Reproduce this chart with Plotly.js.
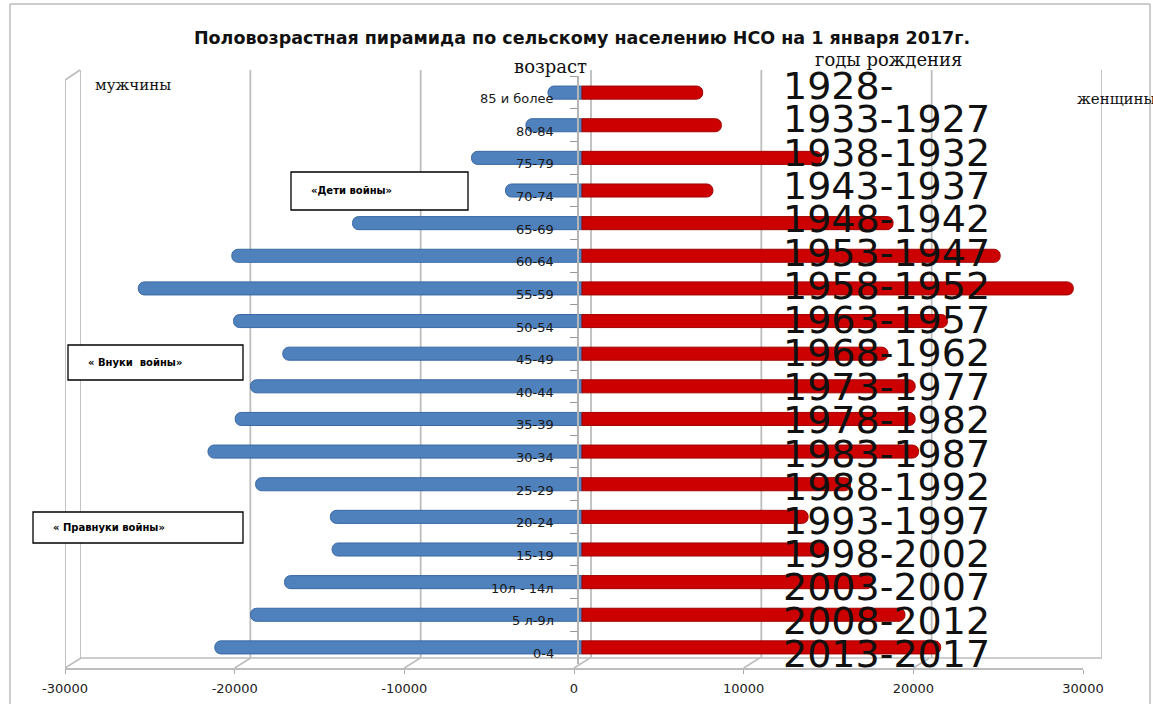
<!DOCTYPE html>
<html>
<head>
<meta charset="utf-8">
<script src="https://cdn.plot.ly/plotly-3.0.1.min.js"></script>
<style>html,body{margin:0;padding:0;background:#fff;}#chart{width:1153px;height:704px;}</style>
</head>
<body>
<div id="chart"></div>
<script>
// ---- data ----
const ages = ['85 и более','80-84','75-79','70-74','65-69','60-64','55-59','50-54','45-49','40-44','35-39','30-34','25-29','20-24','15-19','10л - 14л','5 л-9л','0-4'];
const men = [2000,3300,6500,4500,13500,20600,26100,20500,17600,19500,20400,22000,19200,14800,14700,17500,19500,21600];
const women = [7100,8200,14100,7700,18300,24600,28900,21500,18000,19600,19600,19800,15800,13300,14500,17100,19000,21100];
const birthYears = ['1928-','1933-1927','1938-1932','1943-1937','1948-1942','1953-1947','1958-1952','1963-1957','1968-1962','1973-1977','1978-1982','1983-1987','1988-1992','1993-1997','1998-2002','2003-2007','2008-2012','2013-2017'];
const xTicks = [-30000,-20000,-10000,0,10000,20000,30000];
const titleText = 'Половозрастная пирамида по сельскому населению НСО на 1 января 2017г.';

// ---- helpers (pixel -> paper) ----
const W = 1153, H = 704;
const px = p => p / W;
const py = p => 1 - p / H;

const traces = [
  {type:'bar', orientation:'h', y:ages, x:men.map(v => -v), name:'мужчины',
   width:0.4, marker:{color:'#4F81BD', line:{color:'#3A68A3', width:1}, cornerradius:6},
   xaxis:'x', yaxis:'y', hoverinfo:'skip', showlegend:false},
  {type:'bar', orientation:'h', y:ages, x:women, name:'женщины',
   width:0.4, marker:{color:'#CC0000', line:{color:'#A00000', width:1}, cornerradius:6},
   xaxis:'x', yaxis:'y', hoverinfo:'skip', showlegend:false},
  {type:'scatter', x:[], y:[], xaxis:'x2', yaxis:'y', showlegend:false, hoverinfo:'skip'},
  {type:'scatter', x:[], y:[], xaxis:'x3', yaxis:'y', showlegend:false, hoverinfo:'skip'}
];

const gridColor = '#bdbdbd';
const shapes = [];
// back wall gridlines
xTicks.forEach(v => {
  shapes.push({type:'line', xref:'x3', yref:'paper', x0:v, x1:v, y0:py(658), y1:py(70),
               line:{color:gridColor, width:1.8}, layer:'below'});
  // floor slant
  shapes.push({type:'line', xref:'x2', yref:'paper', xsizemode:'pixel', xanchor:v, x0:0, x1:16,
               y0:py(668), y1:py(658), line:{color:gridColor, width:1.5}, layer:'below'});
});
// back floor line
shapes.push({type:'line', xref:'x3', yref:'paper', x0:-30000, x1:30000, y0:py(658), y1:py(658),
             line:{color:gridColor, width:1.5}, layer:'below'});
// front-left wall edge
shapes.push({type:'line', xref:'x2', yref:'paper', x0:-30000, x1:-30000, y0:py(668), y1:py(80),
             line:{color:gridColor, width:1.8}, layer:'below'});
shapes.push({type:'line', xref:'x2', yref:'paper', xsizemode:'pixel', xanchor:-30000, x0:0, x1:15,
             y0:py(80), y1:py(70), line:{color:gridColor, width:1.8}, layer:'below'});
// outer chart border
shapes.push({type:'rect', xref:'paper', yref:'paper', x0:px(10), x1:px(1150), y0:py(712), y1:py(4),
             line:{color:'#9a9a9a', width:1}, layer:'below'});

const annotations = [];
// age labels
ages.forEach(a => {
  annotations.push({xref:'paper', yref:'y', x:px(556), y:a, xanchor:'right', yanchor:'middle',
                    yshift:-6, text:a, showarrow:false,
                    font:{family:'DejaVu Sans', size:13, color:'#1a1a1a'}});
});
// birth years
birthYears.forEach((t, i) => {
  annotations.push({xref:'paper', yref:'y', x:px(781), y:ages[i], xanchor:'left', yanchor:'middle',
                    yshift:7 - i * 14 / 17, text:t, showarrow:false,
                    font:{family:'DejaVu Sans', size:38, color:'#111'}});
});
// header labels
annotations.push({xref:'paper', yref:'paper', x:px(550), y:py(66), text:'возраст', showarrow:false,
                  xanchor:'center', yanchor:'middle', font:{family:'DejaVu Serif', size:18, color:'#111'}});
annotations.push({xref:'paper', yref:'paper', x:px(888), y:py(60), text:'годы рождения', showarrow:false,
                  xanchor:'center', yanchor:'middle', font:{family:'DejaVu Serif', size:18, color:'#111'}});
annotations.push({xref:'paper', yref:'paper', x:px(93), y:py(85), text:'мужчины', showarrow:false,
                  xanchor:'left', yanchor:'middle', font:{family:'DejaVu Serif', size:15, color:'#111'}});
annotations.push({xref:'paper', yref:'paper', x:px(1075), y:py(99), text:'женщины', showarrow:false,
                  xanchor:'left', yanchor:'middle', font:{family:'DejaVu Serif', size:15, color:'#111'}});
// boxes
const boxes = [
  {text:'«Дети войны»', x0:291, x1:468, y0:172, y1:210},
  {text:'« Внуки  войны»', x0:68, x1:243, y0:345, y1:380},
  {text:'« Правнуки войны»', x0:33, x1:243, y0:512, y1:543}
];
boxes.forEach(b => {
  shapes.push({type:'rect', xref:'paper', yref:'paper', x0:px(b.x0), x1:px(b.x1), y0:py(b.y1), y1:py(b.y0),
               line:{color:'#000', width:1.3}, fillcolor:'#fff', layer:'above'});
  annotations.push({xref:'paper', yref:'paper', x:px(b.x0 + 18), y:py((b.y0 + b.y1) / 2), text:b.text,
                    showarrow:false, xanchor:'left', yanchor:'middle',
                    font:{family:'DejaVu Sans', size:10, color:'#000', weight:'bold'}});
});

const layout = {
  width:W, height:H,
  margin:{l:0, r:0, t:0, b:0},
  paper_bgcolor:'#fff', plot_bgcolor:'rgba(0,0,0,0)',
  showlegend:false,
  barmode:'relative',
  title:{text:'<b>' + titleText + '</b>', x:px(582), xanchor:'center', xref:'paper',
         y:py(38), yanchor:'middle', yref:'paper',
         font:{family:'DejaVu Sans', size:17.5, color:'#111'}},
  xaxis:{domain:[px(72), px(1092)], range:[-30000, 30000], showticklabels:false, ticks:'',
         showgrid:false, zeroline:false, showline:false, anchor:'y'},
  xaxis2:{domain:[px(65), px(1083)], range:[-30000, 30000], anchor:'free', position:py(668),
          tickvals:xTicks, ticktext:xTicks.map(String), ticks:'outside', ticklen:4, tickcolor:'#aaa',
          showline:true, linecolor:gridColor, linewidth:1.5, showgrid:false, zeroline:false,
          ticklabelstandoff:4, tickfont:{family:'DejaVu Sans', size:13, color:'#222'}},
  xaxis3:{domain:[px(80), px(1102)], range:[-30000, 30000], anchor:'free', position:py(658),
          showticklabels:false, ticks:'', showgrid:false, zeroline:false, showline:false},
  yaxis:{domain:[py(664.4), py(75.6)], type:'category', autorange:'reversed',
         showticklabels:false, ticks:'outside', tickson:'boundaries', ticklen:7, tickcolor:'#999',
         showline:true, linecolor:'#b5b5b5', linewidth:1.5, showgrid:false, zeroline:false,
         anchor:'free', position:px(577)},
  shapes:shapes,
  annotations:annotations
};

Plotly.newPlot('chart', traces, layout, {staticPlot:true, displayModeBar:false});
</script>
</body>
</html>
